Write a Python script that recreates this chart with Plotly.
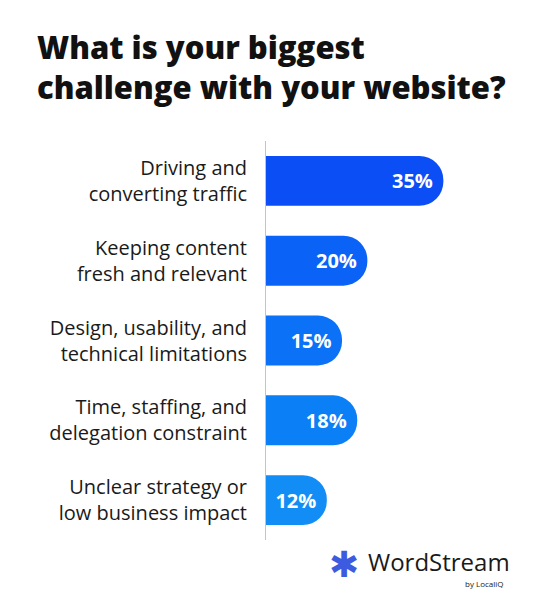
import plotly.graph_objects as go

# survey answers, top to bottom
labels = [
    'Driving and<br>converting traffic',
    'Keeping content<br>fresh and relevant',
    'Design, usability, and<br>technical limitations',
    'Time, staffing, and<br>delegation constraint',
    'Unclear strategy or<br>low business impact',
]
shares = [35, 20, 15, 18, 12]
bar_colors = ['#0b4ef6', '#0a63f6', '#0b71f6', '#0b7ff6', '#128df5']

fig = go.Figure(go.Bar(
    x=shares,
    y=labels,
    orientation='h',
    marker=dict(color=bar_colors, cornerradius=25, line=dict(width=0)),
    text=[f'{v}%\u2009' for v in shares],
    textposition='inside',
    insidetextanchor='end',
    textfont=dict(family='Open Sans', size=20, color='white', weight=700),
    hoverinfo='skip',
))

# page body adds ~8px, so the figure is a bit smaller than the window
fig.update_layout(
    width=531, height=592,
    margin=dict(l=258, r=50, t=133, b=60, autoexpand=False),
    paper_bgcolor='white', plot_bgcolor='white',
    bargap=0.375,
    showlegend=False,
    title=dict(
        text='What is your biggest<br>challenge with your website?',
        x=29 / 531, xanchor='left', xref='container',
        y=0.914, yanchor='top', yref='container',
        font=dict(family='Open Sans', size=31, color='#111111', weight=800),
    ),
    xaxis=dict(range=[0, 44], visible=False, fixedrange=True),
    yaxis=dict(
        autorange='reversed', automargin=False,
        showline=True, linecolor='#c4c4c4', linewidth=1,
        showgrid=False, zeroline=False,
        ticks='', ticklabelstandoff=14,
        tickfont=dict(family='Open Sans', size=20, color='#1a1a1a'),
    ),
)

# WordStream logo in the corner
fig.add_annotation(
    text='✱', xref='paper', yref='paper', x=0.35, y=-0.06,
    xanchor='center', yanchor='middle',
    showarrow=False, font=dict(size=36, color='#3d5be0'),
)
fig.add_annotation(
    text='WordStream', xref='paper', yref='paper', x=(358 - 258) / 223, y=-0.055,
    xanchor='left', yanchor='middle', showarrow=False,
    font=dict(family='Open Sans', size=24, color='#1a1a1a'),
)
fig.add_annotation(
    text='by LocaliQ', xref='paper', yref='paper', x=(498 - 258) / 223, y=-0.108,
    xanchor='right', yanchor='middle', showarrow=False,
    font=dict(family='Open Sans', size=8, color='#1a1a1a'),
)

fig.write_html('out.html')
